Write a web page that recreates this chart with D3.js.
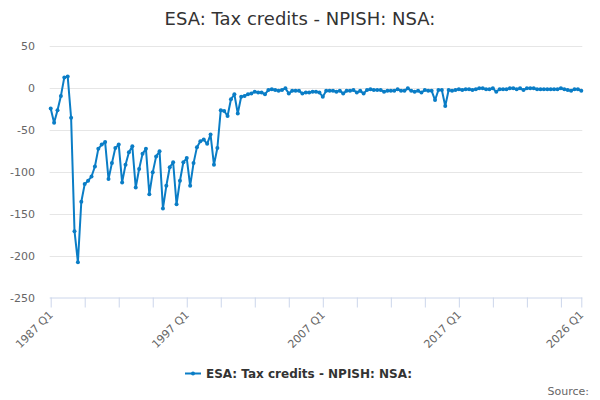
<!DOCTYPE html>
<html>
<head>
<meta charset="utf-8">
<script src="https://cdn.jsdelivr.net/npm/d3@7"></script>
<style>
  html, body { margin: 0; padding: 0; background: #fff; }
  svg { display: block; font-family: "DejaVu Sans", sans-serif; }
</style>
</head>
<body>
<svg id="chart" width="600" height="400"></svg>
<script>
const title = "ESA: Tax credits - NPISH: NSA:";
const seriesName = "ESA: Tax credits - NPISH: NSA:";
const startYear = 1987;
const values = [
  -25, -42, -27, -10, 12, 13, -36, -171, -208, -136,
  -115, -111, -106, -94, -73, -68, -65, -109, -90, -72,
  -68, -113, -92, -77, -70, -119, -97, -79, -73, -127,
  -101, -82, -76, -144, -117, -95, -89, -139, -111, -89,
  -84, -117, -90, -71, -64, -62, -67, -56, -92, -72,
  -27, -28, -34, -14, -8, -31, -11, -10, -8, -7,
  -5, -6, -6, -8, -3, -2, -3, -4, -3, -1,
  -7, -4, -4, -4, -7, -6, -6, -5, -5, -6,
  -11, -4, -4, -4, -5, -4, -7, -4, -4, -3,
  -6, -4, -7, -3, -2, -3, -3, -3, -5, -4,
  -4, -4, -2, -4, -4, -1, -4, -5, -4, -6,
  -3, -4, -4, -15, -3, -3, -22, -3, -4, -3,
  -2, -3, -2, -2, -3, -2, -1, -1, -2, -2,
  -1, -5, -2, -2, -2, -1, -1, -2, -1, -3,
  -1, -1, -1, -2, -2, -2, -2, -2, -2, -2,
  -1, -2, -3, -4, -2, -2, -4
];
const categories = values.map((v, i) => (startYear + Math.floor(i / 4)) + " Q" + (i % 4 + 1));
const yTicks = [50, 0, -50, -100, -150, -200, -250];
const xTickLabels = ["1987 Q1", "1997 Q1", "2007 Q1", "2017 Q1", "2026 Q1"];

const svg = d3.select("#chart");
const m = { left: 50.7, right: 581.3, top: 45.5, bottom: 297.5 };
const x = d3.scaleLinear().domain([0, categories.length - 1]).range([m.left, m.right]);
const y = d3.scaleLinear().domain([-250, 50]).range([m.bottom, m.top]);

// title
svg.append("text").attr("x", 300).attr("y", 25).attr("text-anchor", "middle")
  .attr("font-size", 18).attr("fill", "#333").text(title);

// grid
svg.append("g").selectAll("line").data(yTicks.filter(t => t !== -250)).join("line")
  .attr("x1", m.left - 1).attr("x2", m.right + 1)
  .attr("y1", d => Math.round(y(d)) + 0.5).attr("y2", d => Math.round(y(d)) + 0.5)
  .attr("stroke", "#e6e6e6").attr("stroke-width", 1);

// y labels
svg.append("g").selectAll("text").data(yTicks).join("text")
  .attr("x", 35).attr("y", d => y(d) + 4).attr("text-anchor", "end")
  .attr("font-size", 11).attr("fill", "#666").text(d => d);

// x axis
const tickIdx = d3.range(0, categories.length, 10).concat([categories.length - 1]);
const xAxis = d3.axisBottom(x).tickValues(tickIdx).tickSize(10).tickFormat("");
const gx = svg.append("g").attr("transform", `translate(0,${Math.round(m.bottom) - 0.5})`).call(xAxis);
gx.select(".domain").attr("stroke", "#ccd6eb").attr("d", `M${m.left - 1},0.5H${m.right + 1}`);
gx.selectAll(".tick line").attr("stroke", "#ccd6eb");

const labelIdx = xTickLabels.map(l => categories.indexOf(l));
svg.append("g").selectAll("text").data(labelIdx).join("text")
  .attr("transform", d => `translate(${x(d) + 3},${m.bottom + 18}) rotate(-45)`)
  .attr("text-anchor", "end").attr("font-size", 11).attr("fill", "#666")
  .text(d => categories[d]);

// line
const color = "#0a7dc6";
const line = d3.line().x((d, i) => x(i)).y(d => y(d));
svg.append("path").datum(values).attr("d", line)
  .attr("fill", "none").attr("stroke", color).attr("stroke-width", 2)
  .attr("stroke-linejoin", "round");
svg.append("g").selectAll("circle").data(values).join("circle")
  .attr("cx", (d, i) => x(i)).attr("cy", d => y(d)).attr("r", 2).attr("fill", color);

// legend
const lg = svg.append("g");
lg.append("line").attr("x1", 185).attr("x2", 201).attr("y1", 373.5).attr("y2", 373.5)
  .attr("stroke", color).attr("stroke-width", 2);
lg.append("circle").attr("cx", 193).attr("cy", 373.5).attr("r", 2).attr("fill", color);
lg.append("text").attr("x", 206).attr("y", 378).attr("font-size", 12).attr("font-weight", "bold")
  .attr("fill", "#333").text(seriesName);

// source
svg.append("text").attr("x", 589).attr("y", 395).attr("text-anchor", "end")
  .attr("font-size", 11).attr("fill", "#666").text("Source:");
</script>
</body>
</html>
